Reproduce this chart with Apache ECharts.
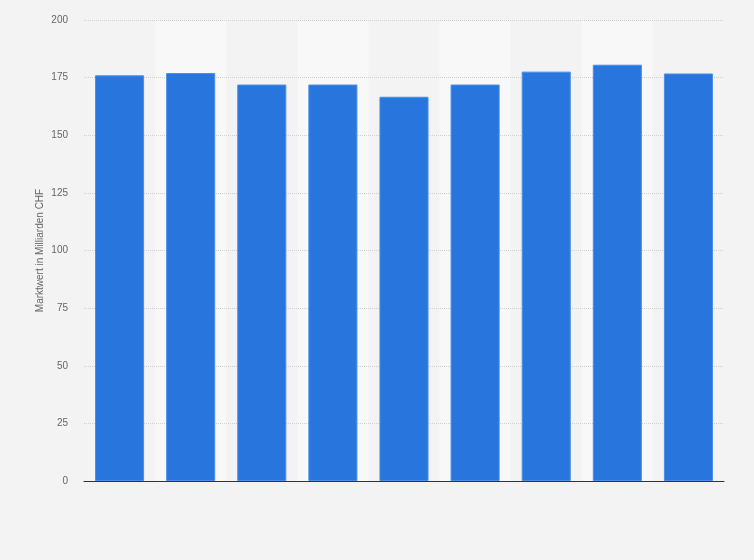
<!DOCTYPE html>
<html>
<head>
<meta charset="utf-8">
<script src="https://cdn.jsdelivr.net/npm/echarts@6/dist/echarts.min.js"></script>
<style>
html,body{margin:0;padding:0;background:#f3f3f3;}
#chart{width:754px;height:560px;}
</style>
</head>
<body>
<div id="chart"></div>
<script>
const categories = ['1', '2', '3', '4', '5', '6', '7', '8', '9'];
const values = [176, 177, 172, 172, 166.7, 172, 177.6, 180.6, 176.8];
const yTicks = { min: 0, max: 200, interval: 25 };
const yAxisName = 'Marktwert in Milliarden CHF';

const chart = echarts.init(document.getElementById('chart'));
chart.setOption({
  backgroundColor: '#f3f3f3',
  animation: false,
  grid: { left: 84, right: 30, top: 20, bottom: 79 },
  xAxis: {
    type: 'category',
    data: categories,
    z: 0,
    axisLine: { show: true, lineStyle: { color: '#333', width: 1 } },
    axisTick: { show: false },
    axisLabel: { show: false },
    splitArea: { show: true, areaStyle: { color: ['rgba(0,0,0,0)', '#f8f8f8'] } }
  },
  yAxis: {
    type: 'value',
    z: 1,
    min: yTicks.min,
    max: yTicks.max,
    interval: yTicks.interval,
    name: yAxisName,
    nameLocation: 'middle',
    nameGap: 39,
    nameMoveOverlap: false,
    nameTextStyle: { color: '#666', fontSize: 10, fontFamily: 'Liberation Sans, Arial, sans-serif' },
    axisLine: { show: false },
    axisTick: { show: false },
    axisLabel: { color: '#666', fontSize: 10, margin: 16, fontFamily: 'Liberation Sans, Arial, sans-serif' },
    splitLine: { show: true, showMinLine: false, lineStyle: { color: '#d0d0d0', type: [1, 1], width: 1 } }
  },
  series: [{
    type: 'bar',
    z: 3,
    data: values,
    barCategoryGap: '31%',
    itemStyle: { color: '#2876dd', borderColor: '#4a8ee6', borderWidth: 1 }
  }]
});
</script>
</body>
</html>
